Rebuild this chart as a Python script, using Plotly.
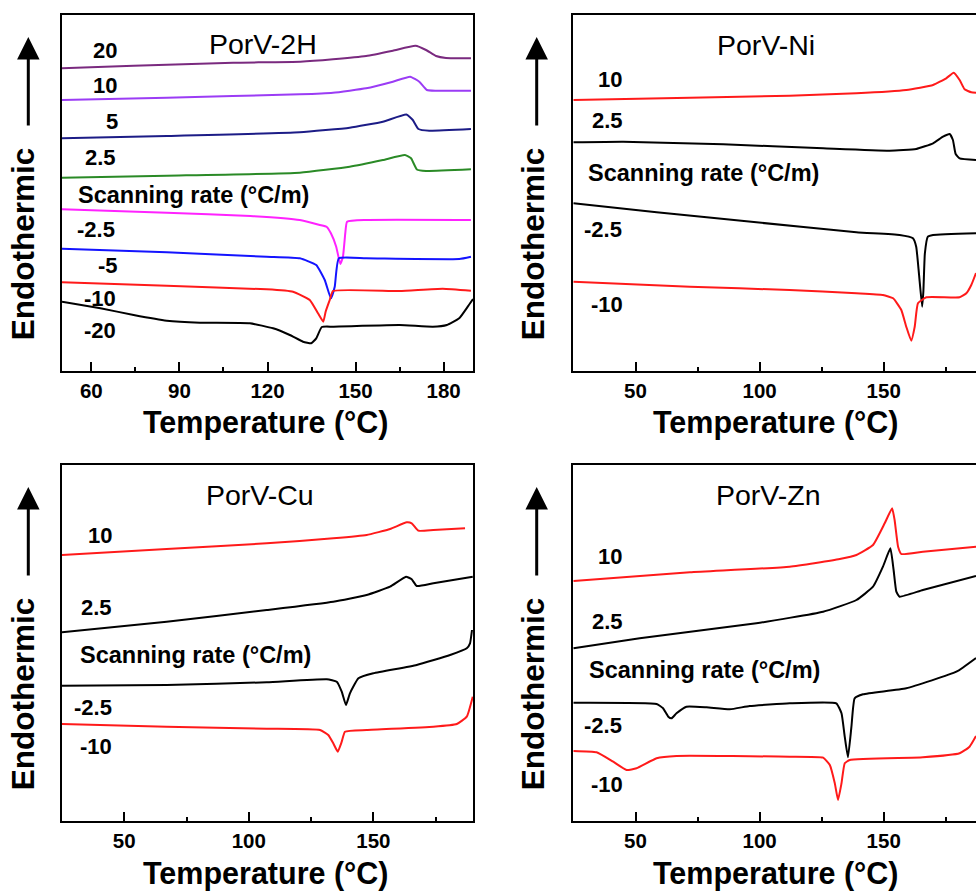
import plotly.graph_objects as go

# ---------------- DATA (temperature in °C, heat flow in arbitrary offset units) ----------------
# Panel 1: PorV-2H
h2_20_T = [50, 74.4, 108.3, 131.2, 142.3, 153.6, 162.7, 170.4, 174.0, 177.4, 180.8, 189.3]
h2_20_Q = [302.7, 305.3, 308.3, 309.3, 311.7, 315.0, 320.3, 325.2, 321.0, 315.0, 313.0, 312.7]
h2_10_T = [50, 85.7, 131.0, 142.3, 153.6, 162.7, 168.6, 171.7, 174.3, 177.4, 189.3]
h2_10_Q = [271.0, 273.3, 276.7, 278.3, 282.7, 289.3, 294.3, 289.3, 281.0, 280.3, 280.3]
h2_5_T = [50, 85.7, 131.0, 148.0, 159.3, 167.3, 169.5, 171.4, 175.1, 189.3]
h2_5_Q = [232.7, 235.0, 238.7, 243.3, 249.3, 256.4, 251.0, 242.0, 240.3, 242.0]
h2_2p5_T = [50, 85.7, 131.0, 148.0, 159.3, 166.8, 168.9, 170.9, 174.0, 189.3]
h2_2p5_Q = [193.3, 195.3, 198.3, 204.3, 211.0, 216.0, 212.7, 201.5, 200.0, 201.7]
h2_m2p5_T = [50, 85.7, 114.2, 131.0, 137.8, 140.2, 141.6, 143.4, 144.8, 145.7, 146.5, 147.1, 153.6, 189.3]
h2_m2p5_Q = [161.7, 158.3, 155.0, 151.0, 146.0, 144.0, 137.7, 124.3, 107.0, 114.3, 138.0, 149.3, 151.0, 151.0]
h2_m5_T = [50, 85.7, 119.7, 131.0, 136.6, 139.5, 141.6, 142.9, 144.3, 153.6, 185.3, 189.3]
h2_m5_Q = [122.3, 118.7, 114.3, 112.7, 106.0, 91.0, 72.7, 84.3, 112.7, 112.7, 112.0, 114.3]
h2_m10_T = [50, 85.7, 119.7, 128.7, 134.4, 137.2, 139.0, 139.8, 141.2, 142.3, 165.0, 179.7, 189.3]
h2_m10_Q = [88.7, 85.3, 81.7, 79.3, 71.0, 57.7, 49.3, 59.3, 71.0, 80.0, 80.0, 82.3, 80.3]
h2_m20_T = [50, 63.1, 74.4, 85.7, 97.0, 114.0, 121.9, 127.6, 132.1, 134.9, 136.6, 138.5, 142.3, 165.0, 176.3, 181.1, 185.3, 188.2, 190]
h2_m20_Q = [69.3, 62.7, 56.0, 50.3, 48.3, 47.7, 42.7, 36.0, 29.3, 27.7, 32.7, 44.0, 44.3, 46.0, 44.3, 46.0, 52.7, 64.3, 72.0]

# Panel 2: PorV-Ni
ni_10_T = [25, 71.9, 112.1, 139.0, 159.1, 169.9, 175.2, 178.2, 180.6, 182.6, 185.3, 187.2]
ni_10_Q = [271.0, 273.3, 275.3, 277.7, 281.0, 286.0, 292.7, 298.3, 291.0, 281.7, 278.7, 278.3]
ni_2p5_T = [25, 45.0, 85.3, 125.6, 152.4, 163.1, 169.9, 173.9, 176.6, 177.9, 179.0, 180.6, 187.2]
ni_2p5_Q = [228.7, 229.3, 226.7, 222.7, 220.3, 222.0, 227.7, 234.3, 237.0, 231.0, 217.0, 212.7, 211.0]
ni_m2p5_T = [25, 58.5, 98.7, 139.0, 156.4, 161.8, 163.1, 164.2, 165.5, 166.0, 166.6, 167.8, 169.9, 187.2]
ni_m2p5_Q = [167.7, 158.7, 148.7, 138.7, 136.0, 132.7, 124.3, 97.7, 64.3, 80.0, 117.7, 134.3, 136.0, 137.7]
ni_m10_T = [25, 71.9, 112.1, 139.0, 149.7, 153.8, 157.1, 159.1, 161.1, 162.5, 163.8, 167.2, 180.6, 183.3, 185.3, 187.2]
ni_m10_Q = [89.3, 84.3, 81.0, 77.7, 76.0, 72.7, 61.0, 44.3, 30.3, 44.3, 67.7, 73.7, 73.7, 77.7, 86.0, 98.0]

# Panel 3: PorV-Cu
cu_10_T = [25, 67.0, 107.2, 133.9, 147.3, 156.7, 163.4, 165.4, 168.1, 174.1, 186.8]
cu_10_Q = [266.0, 272.0, 277.7, 282.7, 286.0, 292.0, 298.7, 297.7, 290.3, 291.0, 292.7]
cu_2p5_T = [25, 67.0, 107.2, 133.9, 147.3, 156.7, 163.1, 165.4, 167.4, 174.1, 189.9]
cu_2p5_Q = [188.7, 199.3, 211.0, 219.3, 226.0, 234.3, 244.3, 241.7, 235.0, 237.7, 244.3]
cu_m2p5_T = [25, 67.0, 107.2, 131.3, 135.3, 137.3, 139.0, 140.6, 144.0, 150.0, 167.4, 180.8, 187.5, 188.8, 189.6]
cu_m2p5_Q = [135.3, 136.0, 138.7, 141.7, 139.3, 129.3, 116.0, 127.7, 142.7, 147.7, 156.0, 166.0, 172.7, 177.7, 191.0]
cu_m10_T = [25, 67.0, 107.2, 128.6, 131.9, 133.9, 135.7, 137.3, 138.6, 147.3, 174.1, 183.5, 187.5, 189.9]
cu_m10_Q = [97.0, 94.3, 92.3, 91.0, 86.0, 77.7, 69.3, 79.3, 89.3, 91.0, 94.3, 97.0, 104.3, 124.3]

# Panel 4: PorV-Zn
zn_10_T = [25, 71.9, 112.1, 132.3, 139.0, 145.7, 150.4, 153.4, 154.4, 155.8, 157.1, 165.8, 187.2]
zn_10_Q = [240.0, 248.7, 254.3, 262.0, 266.0, 276.0, 297.7, 312.7, 301.0, 274.3, 267.0, 269.3, 274.3]
zn_2p5_T = [25, 51.7, 98.7, 125.6, 139.0, 145.7, 149.7, 152.7, 154.0, 155.1, 156.4, 165.8, 187.2]
zn_2p5_Q = [172.7, 182.7, 197.7, 209.3, 221.0, 234.3, 254.3, 272.7, 251.0, 229.3, 224.3, 231.0, 245.0]
zn_m2p5_T = [25, 58.5, 61.1, 63.2, 64.5, 66.5, 70.5, 78.6, 88.0, 96.0, 112.1, 130.9, 133.0, 134.3, 135.6, 137.0, 138.3, 141.7, 159.1, 179.3, 187.2]
zn_m2p5_Q = [118.3, 117.0, 112.7, 104.3, 102.7, 107.7, 114.3, 113.7, 111.7, 115.0, 117.7, 117.7, 107.7, 84.3, 63.7, 94.3, 122.7, 126.7, 132.7, 149.3, 163.0]
zn_m10_T = [25, 34.3, 41.0, 46.4, 50.4, 58.5, 66.5, 112.1, 125.6, 128.3, 130.3, 131.6, 133.0, 134.3, 136.3, 165.8, 180.6, 184.6, 187.2]
zn_m10_Q = [70.0, 68.7, 59.3, 51.0, 52.7, 62.7, 65.0, 64.3, 63.3, 56.0, 37.7, 21.0, 37.7, 57.7, 61.0, 63.7, 67.7, 74.3, 85.0]

rate_labels_2h = ["20", "10", "5", "2.5", "-2.5", "-5", "-10", "-20"]
rate_labels_4 = ["10", "2.5", "-2.5", "-10"]
panel_titles = ["PorV-2H", "PorV-Ni", "PorV-Cu", "PorV-Zn"]
x_title = "Temperature (°C)"
y_title = "Endothermic"
scan_text = "Scanning rate (°C/m)"

# ---------------- STYLE ----------------
FONT = "Liberation Sans, Arial, sans-serif"
c2h = ["#7a2a7f", "#9b3cf5", "#1c1c86", "#2a8a26", "#ff22ff", "#1414ff", "#ff1a1a", "#000000"]
c4 = ["#ff1a1a", "#000000", "#000000", "#ff1a1a"]

fig = go.Figure()

panels = [
    ("x", "y", [(h2_20_T, h2_20_Q), (h2_10_T, h2_10_Q), (h2_5_T, h2_5_Q), (h2_2p5_T, h2_2p5_Q),
                (h2_m2p5_T, h2_m2p5_Q), (h2_m5_T, h2_m5_Q), (h2_m10_T, h2_m10_Q), (h2_m20_T, h2_m20_Q)],
     rate_labels_2h, c2h),
    ("x2", "y2", [(ni_10_T, ni_10_Q), (ni_2p5_T, ni_2p5_Q), (ni_m2p5_T, ni_m2p5_Q), (ni_m10_T, ni_m10_Q)],
     rate_labels_4, c4),
    ("x3", "y3", [(cu_10_T, cu_10_Q), (cu_2p5_T, cu_2p5_Q), (cu_m2p5_T, cu_m2p5_Q), (cu_m10_T, cu_m10_Q)],
     rate_labels_4, c4),
    ("x4", "y4", [(zn_10_T, zn_10_Q), (zn_2p5_T, zn_2p5_Q), (zn_m2p5_T, zn_m2p5_Q), (zn_m10_T, zn_m10_Q)],
     rate_labels_4, c4),
]

for xa, ya, series, labels, colors in panels:
    for (t, q), lab, col in zip(series, labels, colors):
        fig.add_trace(go.Scatter(x=t, y=q, xaxis=xa, yaxis=ya, mode="lines", name=lab,
                                 line=dict(color=col, width=2, shape="spline", smoothing=0.4),
                                 showlegend=False, hoverinfo="skip"))

# label positions (T, Q) in each panel's data space
lab_pos = {
    "x": [(64.5, 320), (64.5, 285), (67.0, 249.3), (63.1, 213.3), (61.6, 141), (65.7, 105.3), (62.8, 72), (62.8, 40)],
    "x2": [(39.7, 291), (38.6, 250.3), (37.0, 141), (38.3, 66)],
    "x3": [(40.2, 286), (38.9, 213.7), (37.3, 113.7), (38.6, 75)],
    "x4": [(39.7, 264.3), (38.6, 199.3), (37.0, 96), (38.3, 36.7)],
}
scan_pos = {"x": (94.8, 176), "x2": (77.2, 197.7), "x3": (78.4, 166), "x4": (77.9, 151)}

C = dict(xanchor="center", yanchor="middle")
ann = []
for xa, ya, series, labels, colors in panels:
    for (tx, ty), lab in zip(lab_pos[xa], labels):
        ann.append(dict(x=tx, y=ty, xref=xa, yref=ya, text=lab, showarrow=False, **C,
                        font=dict(family=FONT, size=22, color="black", weight="bold")))
    sx, sy = scan_pos[xa]
    ann.append(dict(x=sx, y=sy, xref=xa, yref=ya, text=scan_text, showarrow=False, **C,
                    font=dict(family=FONT, size=23.5, color="black", weight="bold")))

# panel geometry (paper coordinates)
W, H = 976, 893
xd_left = [62 / W, 473 / W]
xd_right = [573 / W, 1.0]
yd_top = [1 - 371 / H, 1 - 15 / H]
yd_bot = [1 - 821 / H, 1 - 465 / H]

title_pos = [(263 / W, 1 - 44 / H), (765.8 / W, 1 - 45 / H), (260 / W, 1 - 495 / H), (768.3 / W, 1 - 495 / H)]
for (tx, ty), tt in zip(title_pos, panel_titles):
    ann.append(dict(x=tx, y=ty, xref="paper", yref="paper", text=tt, showarrow=False, **C,
                    font=dict(family=FONT, size=28.5, color="black")))

for xc, yc in [(265.5 / W, 1 - 423 / H), (775.5 / W, 1 - 423 / H), (265.5 / W, 1 - 873 / H), (775.5 / W, 1 - 873 / H)]:
    ann.append(dict(x=xc, y=yc, xref="paper", yref="paper", text=x_title, showarrow=False, **C,
                    font=dict(family=FONT, size=30.5, color="black", weight="bold")))

for xc, yc in [(23.3 / W, 1 - 244 / H), (533.3 / W, 1 - 244 / H), (23.3 / W, 1 - 694 / H), (533.3 / W, 1 - 694 / H)]:
    ann.append(dict(x=xc, y=yc, xref="paper", yref="paper", text=y_title, showarrow=False, textangle=-90, **C,
                    font=dict(family=FONT, size=31.5, color="black", weight="bold")))

for xc, yc in [(28.3 / W, 1 - 37 / H), (536.7 / W, 1 - 37 / H), (28.3 / W, 1 - 487 / H), (536.7 / W, 1 - 487 / H)]:
    ann.append(dict(x=xc, y=yc, xref="paper", yref="paper", text="", showarrow=True,
                    ax=0, ay=90, axref="pixel", ayref="pixel",
                    arrowhead=2, arrowsize=1.5, arrowwidth=3, arrowcolor="black"))


def xaxis(dom, rng, tick0, dtick, mdtick, mirror):
    return dict(domain=dom, range=rng, showline=True, linecolor="black", linewidth=2, mirror=mirror,
                ticks="inside", ticklen=9, tickwidth=2, tickcolor="black", tick0=tick0, dtick=dtick,
                minor=dict(ticks="inside", ticklen=4, tickwidth=2, tickcolor="black", tick0=0, dtick=mdtick),
                showgrid=False, zeroline=False,
                tickfont=dict(family=FONT, size=20.5, color="black", weight="bold"))


def yaxis(dom, mirror, anchor):
    return dict(domain=dom, range=[0, 356], showline=True, linecolor="black", linewidth=2, mirror=mirror,
                showticklabels=False, ticks="", showgrid=False, zeroline=False, anchor=anchor)


fig.update_layout(
    width=W, height=H, margin=dict(l=0, r=0, t=0, b=0),
    paper_bgcolor="white", plot_bgcolor="white",
    xaxis=xaxis(xd_left, [50, 190], 60, 30, 15, True) | dict(anchor="y"),
    yaxis=yaxis(yd_top, True, "x"),
    xaxis2=xaxis(xd_right, [24.8, 187.2], 50, 50, 25, True) | dict(anchor="y2"),
    yaxis2=yaxis(yd_top, False, "x2"),
    xaxis3=xaxis(xd_left, [25, 190], 50, 50, 25, True) | dict(anchor="y3"),
    yaxis3=yaxis(yd_bot, True, "x3"),
    xaxis4=xaxis(xd_right, [24.8, 187.2], 50, 50, 25, True) | dict(anchor="y4"),
    yaxis4=yaxis(yd_bot, False, "x4"),
    annotations=ann,
)

fig.write_html("out.html", config={"displayModeBar": False},
               post_script="document.body.style.margin='0';document.body.style.overflow='hidden';")
